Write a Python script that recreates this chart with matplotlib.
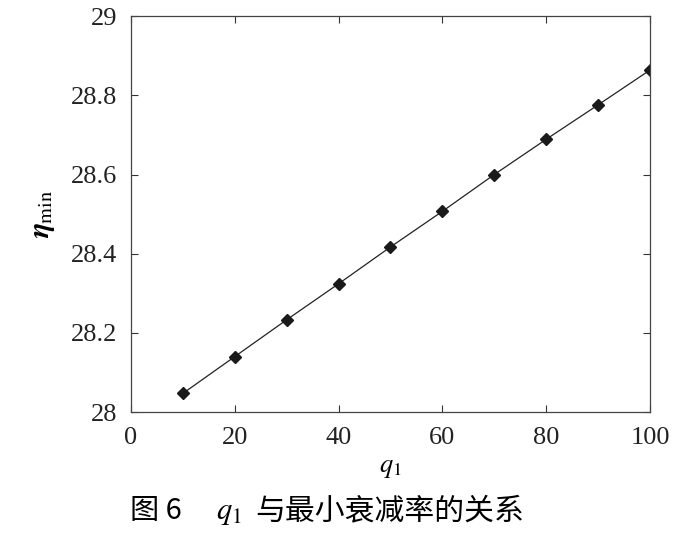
import numpy as np
import matplotlib
matplotlib.use('Agg')
import matplotlib.pyplot as plt

# q1 vs minimum attenuation rate
q1 = [10, 20, 30, 40, 50, 60, 70, 80, 90, 100]
eta_min = [28.047, 28.140, 28.233, 28.324, 28.417, 28.507, 28.600, 28.689, 28.776, 28.864]

xticks = [0, 20, 40, 60, 80, 100]
yticks = [28, 28.2, 28.4, 28.6, 28.8, 29]
ytick_labels = ['28', '28.2', '28.4', '28.6', '28.8', '29']

plt.rcParams['font.family'] = ['Liberation Serif', 'DejaVu Serif']
plt.rcParams['mathtext.fontset'] = 'stix'

fig = plt.figure(figsize=(6.75, 5.4), dpi=100)
ax = fig.add_axes([0.194, 0.237, 0.769, 0.733])

ax.plot(q1, eta_min, color='#222222', linewidth=0.9, marker='D',
        markersize=6.5, markerfacecolor='#1a1a1a', markeredgecolor='#1a1a1a')

ax.set_xlim(0, 100)
ax.set_ylim(28, 29)
ax.set_xticks(xticks)
ax.set_yticks(yticks)
ax.set_yticklabels(ytick_labels)
ax.tick_params(direction='in', length=5, width=0.8, labelsize=19,
               top=True, right=True, colors='#333333', labelcolor='#222222')
ax.tick_params(axis='x', pad=11)
ax.tick_params(axis='y', pad=10)
for s in ax.spines.values():
    s.set_linewidth(0.9)
    s.set_color('#444444')

ax.set_xlabel(r'$q_1$', fontsize=19, labelpad=6)
ax.set_ylabel(r'$\boldsymbol{\eta}_{\rm min}$', fontsize=21, labelpad=10)

# figure caption
cjk = ['Noto Sans CJK SC', 'DejaVu Sans']
fig.text(0.193, 0.038, '图 6', fontsize=21, family=cjk, ha='left', va='baseline')
fig.text(0.320, 0.038, r'$q_1$', fontsize=22, ha='left', va='baseline')
fig.text(0.378, 0.038, '与最小衰减率的关系', fontsize=21.5, family=cjk,
         ha='left', va='baseline')

fig.savefig('out.png', dpi=100)
